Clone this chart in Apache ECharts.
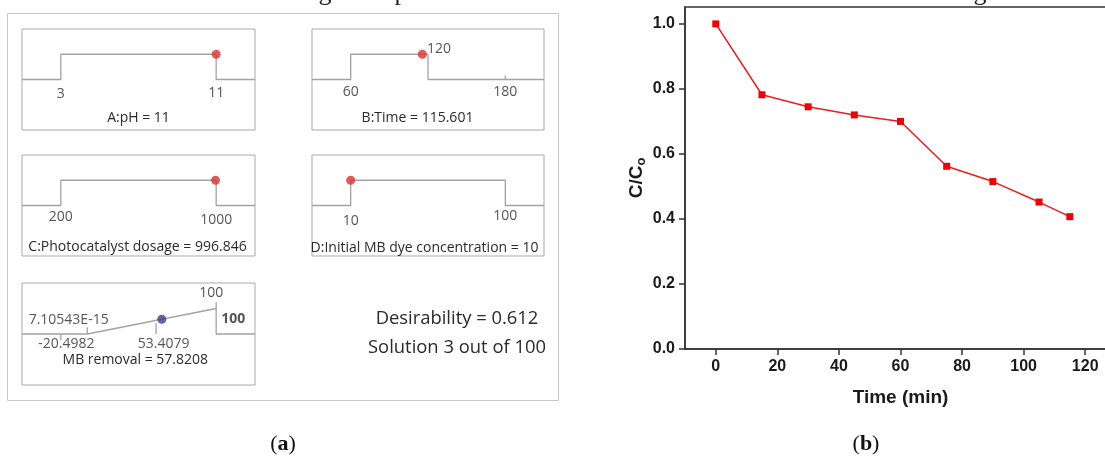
<!DOCTYPE html>
<html>
<head>
<meta charset="utf-8">
<script src="https://cdn.jsdelivr.net/npm/echarts@6/dist/echarts.min.js"></script>
<style>
html,body{margin:0;padding:0;background:#fff;}
#c{width:1105px;height:459px;}
</style>
</head>
<body>
<div id="c"></div>
<script>
// ---------- Data: panel (a) optimisation ramps ----------
const factorNames = ['A:pH', 'B:Time', 'C:Photocatalyst dosage', 'D:Initial MB dye concentration'];
const factorValues = [11, 115.601, 996.846, 10];
const factorValueText = ['11', '115.601', '996.846', '10'];
const factorRangeLow = [3, 60, 200, 10];
const factorRangeHigh = [11, 180, 1000, 100];
const goalLow = [3, 60, 200, 10];
const goalHigh = [11, 120, 1000, 100];

const responseName = 'MB removal';
const responseValue = 57.8208;
const responseValueText = '57.8208';
const responseRangeLow = -20.4982;
const responseRangeHigh = 100;
const responseGoalLow = 7.10543e-15;
const responseGoalHigh = 100;
const responseMarker = 53.4079;
const responseTickText = ['7.10543E-15', '-20.4982', '53.4079', '100', '100'];

const desirabilityText = 'Desirability = 0.612';
const solutionText = 'Solution 3 out of 100';

// ---------- Data: panel (b) ----------
const timeMin = [0, 15, 30, 45, 60, 75, 90, 105, 115];
const ratioCC0 = [1.0, 0.782, 0.745, 0.72, 0.70, 0.562, 0.515, 0.452, 0.407];
const xTicks = [0, 20, 40, 60, 80, 100, 120];
const yTicks = [0, 0.2, 0.4, 0.6, 0.8, 1.0];

// ---------- Layout / style ----------
const FONT = '"Open Sans", "Noto Sans", sans-serif';
const BFONT = '"Liberation Sans", Arial, sans-serif';
const TXT = '#2a2a2a';
const LINE = '#a3a3a3';
const boxes = [[22, 29, 233, 101], [312, 29, 232, 101], [22, 155, 233, 101], [312, 155, 232, 101], [22, 283, 233, 102]];

const grids = [], xAxes = [], yAxes = [], series = [];

function addPanel(i, lo, hi) {
  const b = boxes[i];
  grids.push({left: b[0], top: b[1], width: b[2], height: b[3], show: true, outerBoundsMode: 'none',
    borderColor: '#a9a9a9', borderWidth: 1, backgroundColor: '#fff'});
  const m = (hi - lo) * 0.25;
  xAxes.push({gridIndex: i, type: 'value', min: lo - m, max: hi + m, show: false});
  yAxes.push({gridIndex: i, type: 'value', min: -2, max: 2, show: false});
  return [lo - m, hi + m];
}
function lineSeries(i, data, color) {
  series.push({type: 'line', xAxisIndex: i, yAxisIndex: i, data: data, symbol: 'none',
    silent: true, connectNulls: false, lineStyle: {color: color || LINE, width: 1.3}});
}
function dotSeries(i, pt, color) {
  series.push({type: 'scatter', xAxisIndex: i, yAxisIndex: i, data: [pt], symbolSize: 9,
    itemStyle: {color: color}, silent: true, z: 5});
}
function labelSeries(i, items) {
  series.push({type: 'scatter', xAxisIndex: i, yAxisIndex: i, symbolSize: 0, silent: true, z: 6,
    data: items.map(it => ({value: it.p, label: {show: true, position: 'inside', formatter: it.t,
      offset: it.o, color: TXT, fontFamily: FONT, fontSize: 14, fontWeight: it.w || 'normal'}}))});
}

// factor panels
const labelOffsets = [
  [[0, 15], [0, 14]],
  [[0, 13], [0, 13]],
  [[0, 12], [0, 15]],
  [[0, 15.5], [0, 11]]
];
for (let i = 0; i < 4; i++) {
  const ext = addPanel(i, factorRangeLow[i], factorRangeHigh[i]);
  lineSeries(i, [[ext[0], 0], [goalLow[i], 0], [goalLow[i], 1], [goalHigh[i], 1], [goalHigh[i], 0], [ext[1], 0]]);
  const labs = [
    {p: [factorRangeLow[i], 0], t: String(factorRangeLow[i]), o: labelOffsets[i][0]},
    {p: [factorRangeHigh[i], 0], t: String(factorRangeHigh[i]), o: labelOffsets[i][1]}
  ];
  if (goalHigh[i] !== factorRangeHigh[i]) {
    lineSeries(i, [[factorRangeHigh[i], 0], [factorRangeHigh[i], 0.16]]);
    labs.push({p: [goalHigh[i], 1], t: String(goalHigh[i]), o: [11, -5]});
  }
  labelSeries(i, labs);
  dotSeries(i, [factorValues[i], 1], '#d9322e');
}
// response panel
{
  const i = 4;
  const ext = addPanel(i, responseRangeLow, responseRangeHigh);
  lineSeries(i, [[ext[0], 0], [responseGoalLow, 0], [responseGoalHigh, 1], [responseGoalHigh, 0], [ext[1], 0]]);
  const ramp = v => (v - responseGoalLow) / (responseGoalHigh - responseGoalLow);
  lineSeries(i, [[responseGoalLow, 0], [responseGoalLow, 0.26], '-',
    [responseRangeLow, 0], [responseRangeLow, -0.24], '-',
    [responseMarker, 0], [responseMarker, ramp(responseMarker) - 0.1], '-',
    [responseGoalHigh, 1], [responseGoalHigh, 1.25]]);
  labelSeries(i, [
    {p: [responseGoalLow, 0], t: responseTickText[0], o: [-18.6, -14]},
    {p: [responseRangeLow, 0], t: responseTickText[1], o: [5.5, 10.4]},
    {p: [responseMarker, 0], t: responseTickText[2], o: [7.5, 10.4]},
    {p: [responseGoalHigh, 1], t: responseTickText[3], o: [-5, -15]},
    {p: [responseGoalHigh, 1], t: responseTickText[4], o: [17, 10.6], w: 'bold'}
  ]);
  dotSeries(i, [responseValue, ramp(responseValue)], '#34418a');
}

// main chart (b)
grids.push({left: 685, top: 7, height: 342, width: 431, show: true, outerBoundsMode: 'none', containLabel: false,
  borderColor: '#333', borderWidth: 1.5});
xAxes.push({gridIndex: 5, type: 'value', min: -10, max: 130,
  axisLine: {show: true, onZero: false, lineStyle: {color: '#333', width: 1.5}},
  axisTick: {show: true, customValues: xTicks, length: 6, lineStyle: {color: '#333', width: 1.5}},
  axisLabel: {customValues: xTicks, color: '#1a1a1a', fontFamily: BFONT, fontWeight: 'bold', fontSize: 16, margin: 10},
  splitLine: {show: false},
  name: 'Time (min)', nameLocation: 'middle', nameGap: 39,
  nameTextStyle: {color: '#1a1a1a', fontFamily: BFONT, fontWeight: 'bold', fontSize: 19}});
yAxes.push({gridIndex: 5, type: 'value', min: 0, max: 1.052,
  axisLine: {show: true, onZero: false, lineStyle: {color: '#333', width: 1.5}},
  axisTick: {show: true, customValues: yTicks, length: 6, lineStyle: {color: '#333', width: 1.5}},
  axisLabel: {customValues: yTicks, formatter: v => v.toFixed(1), color: '#1a1a1a', fontFamily: BFONT, fontWeight: 'bold', fontSize: 16, margin: 10},
  splitLine: {show: false},
  name: '{m|C/C}{s|o}', nameLocation: 'middle', nameGap: 36,
  nameTextStyle: {rich: {
    m: {color: '#1a1a1a', fontFamily: BFONT, fontWeight: 'bold', fontSize: 19, lineHeight: 24},
    s: {color: '#1a1a1a', fontFamily: BFONT, fontWeight: 'bold', fontSize: 13, lineHeight: 24, padding: [9, 0, 0, 0]}
  }}});
series.push({type: 'line', xAxisIndex: 5, yAxisIndex: 5, data: timeMin.map((t, k) => [t, ratioCC0[k]]),
  symbol: 'rect', symbolSize: 7, itemStyle: {color: '#f00000'}, lineStyle: {color: '#ee1c1c', width: 1.5}, z: 3});

const titleXY = [[138.5, 118], [417.5, 118], [137.5, 247.5], [424.5, 248], [135.3, 360]];
const graphics = [
  {type: 'rect', shape: {x: 7.5, y: 13.5, width: 551, height: 387}, style: {fill: '#fff', stroke: '#c8c8c8', lineWidth: 1}, z: -10, silent: true}
];
for (let i = 0; i < 5; i++) {
  const t = i < 4 ? factorNames[i] + ' = ' + factorValueText[i] : responseName + ' = ' + responseValueText;
  graphics.push({type: 'text', x: titleXY[i][0], y: titleXY[i][1], z: 10, silent: true,
    style: {text: t, fill: TXT, font: '14px ' + FONT, align: 'center', verticalAlign: 'middle'}});
}
graphics.push({type: 'text', x: 457, y: 318.5, z: 10, style: {text: desirabilityText, fill: TXT, font: '18.4px ' + FONT, align: 'center', verticalAlign: 'middle'}});
graphics.push({type: 'text', x: 457, y: 347.5, z: 10, style: {text: solutionText, fill: TXT, font: '18.4px ' + FONT, align: 'center', verticalAlign: 'middle'}});
// captions
graphics.push({type: 'text', x: 283, y: 444, z: 10, style: {
  text: '{p|(}{b|a}{p|)}', align: 'center', verticalAlign: 'middle',
  rich: {p: {font: '22px "Liberation Serif", "DejaVu Serif", serif', fill: '#111'}, b: {font: 'bold 22px "Liberation Serif", "DejaVu Serif", serif', fill: '#111'}}}});
graphics.push({type: 'text', x: 866, y: 444, z: 10, style: {
  text: '{p|(}{b|b}{p|)}', align: 'center', verticalAlign: 'middle',
  rich: {p: {font: '22px "Liberation Serif", "DejaVu Serif", serif', fill: '#111'}, b: {font: 'bold 22px "Liberation Serif", "DejaVu Serif", serif', fill: '#111'}}}});
// cut-off caption remnants at the top edge
[[325, 'g'], [401, 'p'], [980, 'g']].forEach(g => {
  graphics.push({type: 'text', x: g[0], y: 6, z: 10, style: {text: g[1], fill: '#222', font: '26px "Liberation Serif", serif', align: 'center', verticalAlign: 'bottom'}});
});

const chart = echarts.init(document.getElementById('c'), null, {renderer: 'canvas'});
chart.setOption({animation: false, backgroundColor: '#fff', grid: grids, xAxis: xAxes, yAxis: yAxes, series: series, graphic: graphics});
</script>
</body>
</html>
